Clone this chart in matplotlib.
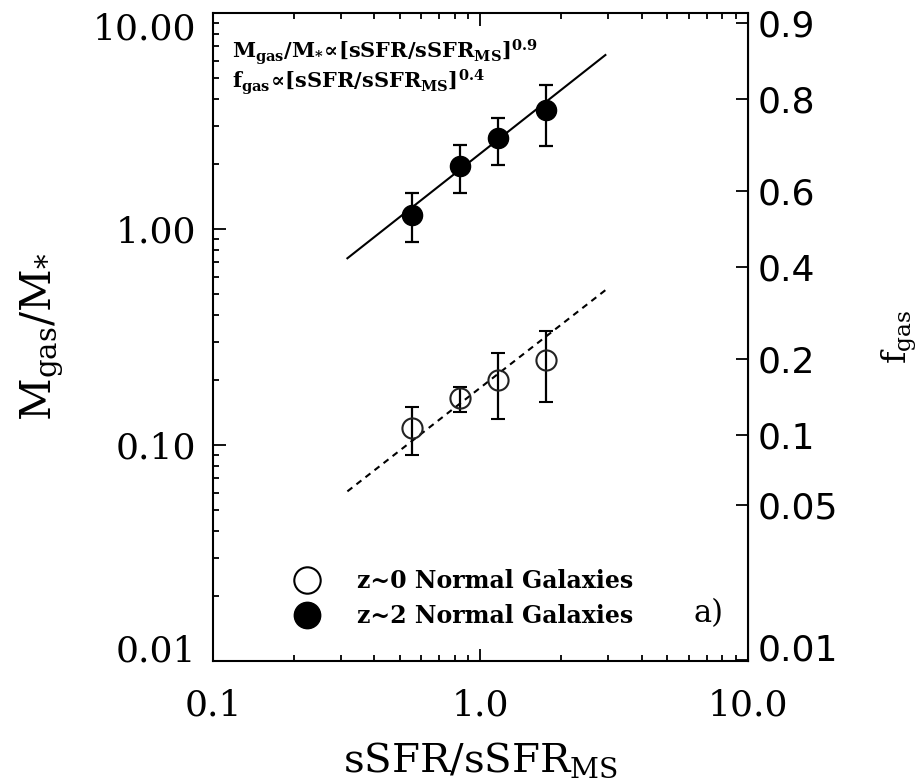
import numpy as np
import matplotlib
matplotlib.use("Agg")
import matplotlib.pyplot as plt
from matplotlib.lines import Line2D
from matplotlib.ticker import NullLocator, FixedLocator, FixedFormatter

plt.rcParams['font.family'] = 'DejaVu Serif'
plt.rcParams['mathtext.fontset'] = 'dejavuserif'

# z~2 normal galaxies (filled)
x_hi = [0.553, 0.838, 1.16, 1.75]
y_hi = [1.16, 1.95, 2.65, 3.56]
y_hi_lo = [0.87, 1.46, 1.97, 2.43]
y_hi_up = [1.46, 2.46, 3.27, 4.65]

# z~0 normal galaxies (open)
x_lo = [0.553, 0.838, 1.16, 1.75]
y_lo = [0.120, 0.165, 0.200, 0.248]
y_lo_lo = [0.090, 0.142, 0.132, 0.158]
y_lo_up = [0.150, 0.186, 0.267, 0.337]

# fit lines (end points)
fit_x = [0.318, 2.93]
fit_hi = [0.732, 6.39]
fit_lo = [0.061, 0.521]

# right axis gas fraction ticks
f_ticks = [0.9, 0.8, 0.6, 0.4, 0.2, 0.1, 0.05, 0.01]
f_labels = ['0.9', '0.8', '0.6', '0.4', '0.2', '0.1', '0.05', '0.01']

fig = plt.figure(figsize=(9.2, 7.83), dpi=100)
ax = fig.add_axes([213/920, 1-661/783, 535/920, 648/783])
ax.set_xscale('log')
ax.set_yscale('log')
ax.set_xlim(0.1, 10)
ax.set_ylim(0.01, 10)

ax.plot(fit_x, fit_hi, color='black', lw=1.5)
ax.plot(fit_x, fit_lo, color='black', lw=1.5, ls=(0, (3, 2.5)))

ax.errorbar(x_hi, y_hi,
            yerr=[np.array(y_hi) - np.array(y_hi_lo), np.array(y_hi_up) - np.array(y_hi)],
            fmt='o', ms=14.5, mfc='black', mec='black', ecolor='black',
            elinewidth=1.6, capsize=5, capthick=1.6, zorder=3)
ax.errorbar(x_lo, y_lo,
            yerr=[np.array(y_lo) - np.array(y_lo_lo), np.array(y_lo_up) - np.array(y_lo)],
            fmt='o', ms=14.5, mfc='none', mec='#222222', mew=1.5, ecolor='black',
            elinewidth=1.6, capsize=5, capthick=1.6, zorder=3)

ax.set_xticks([0.1, 1, 10])
ax.set_xticklabels(['0.1', '1.0', '10.0'])
ax.set_yticks([0.01, 0.1, 1, 10])
ax.set_yticklabels(['0.01', '0.10', '1.00', '10.00'])

for s in ax.spines.values():
    s.set_linewidth(1.5)
ax.tick_params(which='both', direction='in', top=True, right=False, width=1.3)
ax.tick_params(which='major', length=9)
ax.tick_params(which='minor', length=4.5)
ax.tick_params(axis='x', which='major', labelsize=26, pad=20)
ax.tick_params(axis='y', which='major', labelsize=26, pad=12)
ylabs = ax.get_yticklabels()
ylabs[0].set_va('baseline')
ylabs[-1].set_va('top')

ax.set_xlabel(r'$\mathrm{sSFR/sSFR_{MS}}$', fontsize=29, labelpad=13)
ax.set_ylabel(r'$\mathrm{M_{gas}/M_{*}}$', fontsize=30, labelpad=20)

# right axis: gas fraction
sec = ax.secondary_yaxis('right', functions=(lambda m: m / (1 + m), lambda f: f / (1 - f)))
sec.yaxis.set_major_locator(FixedLocator(f_ticks))
sec.yaxis.set_major_formatter(FixedFormatter(f_labels))
sec.yaxis.set_minor_locator(NullLocator())
sec.tick_params(direction='in', length=9, width=1.3, labelsize=26, pad=7)
flabs = sec.get_yticklabels()
for lab in flabs:
    lab.set_family('DejaVu Sans')
flabs[-1].set_va('baseline')
sec.set_ylabel(r'$\mathrm{f_{gas}}$', fontsize=24, labelpad=30)

ax.text(0.035, 0.94, r'$\mathbf{M_{gas}/M_{*}\!\propto\![sSFR/sSFR_{MS}]^{0.9}}$',
        transform=ax.transAxes, fontsize=15, va='center')
ax.text(0.035, 0.893, r'$\mathbf{f_{gas}\!\propto\![sSFR/sSFR_{MS}]^{0.4}}$',
        transform=ax.transAxes, fontsize=15, va='center')

handles = [Line2D([], [], ls='none', marker='o', ms=19, mfc='none', mec='black', mew=1.5),
           Line2D([], [], ls='none', marker='o', ms=19, mfc='black', mec='black')]
ax.legend(handles, ['z~0 Normal Galaxies', 'z~2 Normal Galaxies'],
          loc='lower left', bbox_to_anchor=(0.11, 0.018), frameon=False,
          prop={'family': 'DejaVu Serif', 'weight': 'bold', 'size': 17},
          handlelength=1.2, handletextpad=1.5, labelspacing=0.45)
ax.text(0.898, 0.074, 'a)', transform=ax.transAxes, fontsize=22, va='center')

fig.savefig('out.png', dpi=100)
